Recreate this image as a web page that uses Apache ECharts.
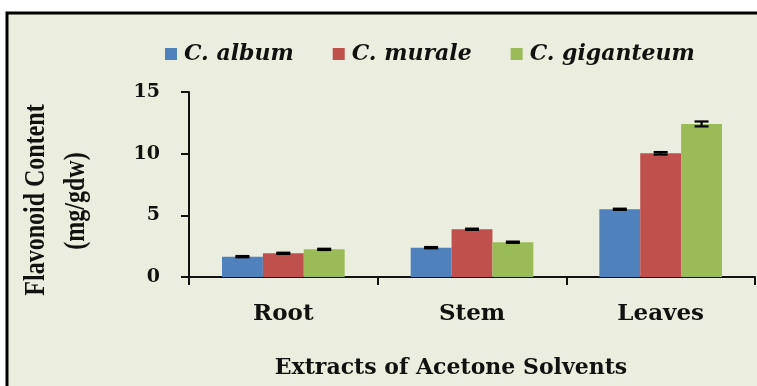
<!DOCTYPE html>
<html>
<head>
<meta charset="utf-8">
<script src="https://cdn.jsdelivr.net/npm/echarts@6/dist/echarts.min.js"></script>
<style>
  html, body { margin: 0; padding: 0; background: #ffffff; }
  #chart { width: 757px; height: 386px; }
</style>
</head>
<body>
<div id="chart"></div>
<script>
// Plant parts extracted with acetone
const categories = ['Root', 'Stem', 'Leaves'];

// Species shown as series
const speciesNames = ['C. album', 'C. murale', 'C. giganteum'];

// Flavonoid content (mg/gdw) per plant part
const albumValues = [1.65, 2.38, 5.49];
const muraleValues = [1.92, 3.87, 10.03];
const giganteumValues = [2.24, 2.82, 12.41];

// Standard errors
const albumErrors = [0.05, 0.05, 0.05];
const muraleErrors = [0.05, 0.05, 0.1];
const giganteumErrors = [0.05, 0.05, 0.2];

// Y axis ticks
const yTicks = [0, 5, 10, 15];

const seriesColors = ['#4F81BD', '#C0504D', '#9BBB59'];
const allValues = [albumValues, muraleValues, giganteumValues];
const allErrors = [albumErrors, muraleErrors, giganteumErrors];

const BAR_CATEGORY_GAP = 0.35;
const serifFont = '"DejaVu Serif", serif';

const chart = echarts.init(document.getElementById('chart'), null, { renderer: 'canvas' });

const barSeries = speciesNames.map((name, i) => ({
  name: name,
  type: 'bar',
  data: allValues[i],
  barGap: '0%',
  barCategoryGap: (BAR_CATEGORY_GAP * 100) + '%',
  itemStyle: { color: seriesColors[i] },
  z: 2
}));

// Error bars drawn on top of each bar, offset to the bar's slot in the group
const errorSeries = speciesNames.map((name, i) => ({
  type: 'custom',
  name: name + ' error',
  z: 5,
  silent: true,
  data: allValues[i].map((v, j) => [j, v, allErrors[i][j]]),
  renderItem: function (params, api) {
    const idx = api.value(0);
    const val = api.value(1);
    const err = api.value(2);
    const bandWidth = api.size([1, 0])[0];
    const barWidth = bandWidth * (1 - BAR_CATEGORY_GAP) / speciesNames.length;
    const center = api.coord([idx, val]);
    const x = center[0] + (i - (speciesNames.length - 1) / 2) * barWidth;
    const top = api.coord([idx, val + err])[1];
    const bottom = api.coord([idx, val - err])[1];
    const half = 7;
    const style = { stroke: '#000', lineWidth: 2.2 };
    return {
      type: 'group',
      children: [
        { type: 'line', shape: { x1: x, y1: top, x2: x, y2: bottom }, style: style },
        { type: 'line', shape: { x1: x - half, y1: top, x2: x + half, y2: top }, style: style },
        { type: 'line', shape: { x1: x - half, y1: bottom, x2: x + half, y2: bottom }, style: style }
      ]
    };
  }
}));

const option = {
  animation: false,
  backgroundColor: '#ffffff',
  graphic: [
    {
      type: 'rect',
      z: -10,
      shape: { x: 7, y: 13, width: 800, height: 420 },
      style: { fill: '#EBEEDE', stroke: '#000', lineWidth: 3 }
    },
    {
      type: 'text',
      x: 37, y: 200,
      rotation: Math.PI / 2,
      scaleY: 1.2,
      style: {
        text: 'Flavonoid Content',
        font: 'bold 24px "Liberation Serif", serif',
        fill: '#111',
        textAlign: 'center',
        textVerticalAlign: 'middle'
      }
    },
    {
      type: 'text',
      x: 77, y: 201,
      rotation: Math.PI / 2,
      scaleY: 1.2,
      style: {
        text: '(mg/gdw)',
        font: 'bold 24px "Liberation Serif", serif',
        fill: '#111',
        textAlign: 'center',
        textVerticalAlign: 'middle'
      }
    },
    {
      type: 'text',
      x: 451, y: 368,
      style: {
        text: 'Extracts of Acetone Solvents',
        font: 'bold 22px ' + serifFont,
        fill: '#111',
        textAlign: 'center',
        textVerticalAlign: 'middle'
      }
    }
  ],
  legend: {
    data: speciesNames,
    left: 160,
    top: 38,
    icon: 'rect',
    itemWidth: 12,
    itemHeight: 12,
    itemGap: 39,
    textStyle: {
      fontFamily: serifFont,
      fontWeight: 'bold',
      fontStyle: 'italic',
      fontSize: 22,
      color: '#111',
      padding: [0, 0, 0, 2]
    }
  },
  grid: { left: 189, right: 2, top: 92, bottom: 109 },
  xAxis: {
    type: 'category',
    data: categories,
    axisLine: { lineStyle: { color: '#111', width: 2 } },
    axisTick: { show: true, length: 8, lineStyle: { color: '#111', width: 2 } },
    axisLabel: {
      margin: 26,
      fontFamily: serifFont,
      fontWeight: 'bold',
      fontSize: 23,
      color: '#111'
    }
  },
  yAxis: {
    type: 'value',
    min: yTicks[0],
    max: yTicks[yTicks.length - 1],
    interval: yTicks[1] - yTicks[0],
    splitLine: { show: false },
    axisLine: { show: true, lineStyle: { color: '#111', width: 2 } },
    axisTick: { show: true, length: 8, lineStyle: { color: '#111', width: 2 } },
    axisLabel: {
      margin: 29,
      fontFamily: serifFont,
      fontWeight: 'bold',
      fontSize: 19,
      color: '#111'
    }
  },
  series: barSeries.concat(errorSeries)
};

chart.setOption(option);
</script>
</body>
</html>
